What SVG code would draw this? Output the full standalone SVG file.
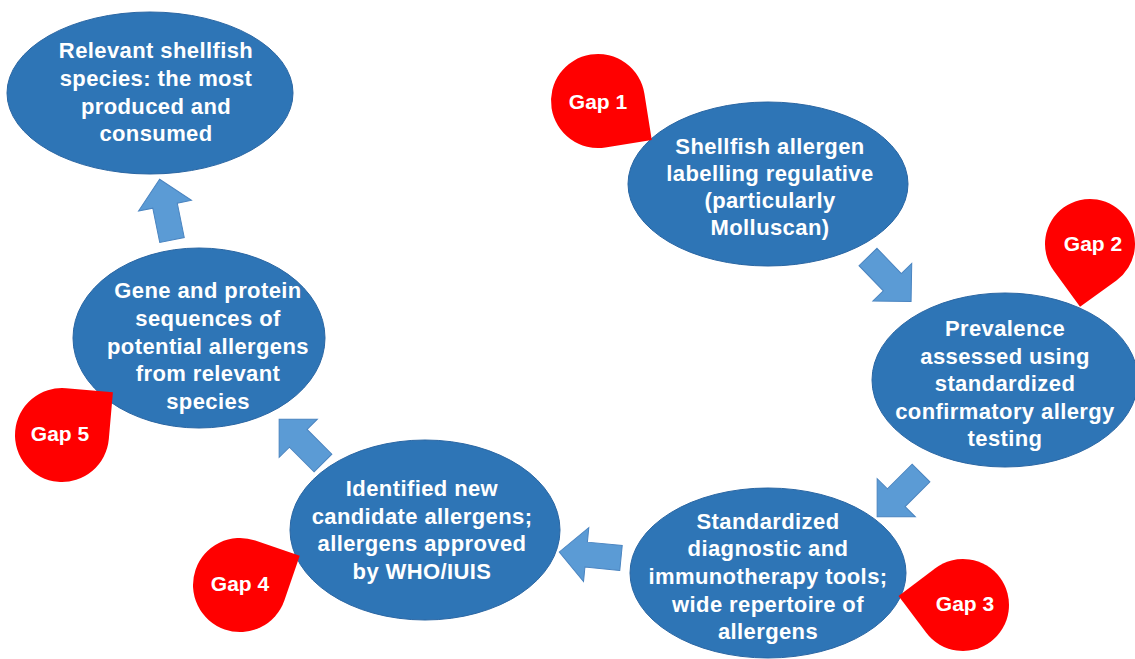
<svg xmlns="http://www.w3.org/2000/svg" width="1135" height="659" viewBox="0 0 1135 659">
<defs>
<style>
.node ellipse{fill:#2e75b6;stroke:#2a66a3;stroke-width:1}
.node text{fill:#fff;font-family:"Liberation Sans",Arial,sans-serif;font-weight:bold;font-size:22px;letter-spacing:0.4px;text-anchor:middle}
.gap path{fill:#ff0000}
.gap text{fill:#fff;font-family:"Liberation Sans",Arial,sans-serif;font-weight:bold;font-size:21px;text-anchor:middle}
.arr{fill:#5b9bd5;stroke:#4a84c0;stroke-width:1}
</style>
<path id="arrowShape" d="M0,-12.5 H35 V-27 L62,0 L35,27 V12.5 H0 Z"/>
</defs>
<rect width="1135" height="659" fill="#fff"/>
<g id="connectors">
<use href="#arrowShape" class="arr" transform="translate(868,257) rotate(46)"/>
<use href="#arrowShape" class="arr" transform="translate(921,473) rotate(135)"/>
<use href="#arrowShape" class="arr" transform="translate(621,558) rotate(185.6)"/>
<use href="#arrowShape" class="arr" transform="translate(323,463) rotate(225)"/>
<use href="#arrowShape" class="arr" transform="translate(172,240) rotate(258.5)"/>
</g>
<g id="n1" class="node">
<ellipse cx="150" cy="93" rx="143" ry="81"/>
<text x="156" y="58">Relevant shellfish</text>
<text x="156" y="86">species: the most</text>
<text x="156" y="114">produced and</text>
<text x="156" y="141">consumed</text>
</g>
<g id="n2" class="node">
<ellipse cx="199" cy="338" rx="126" ry="90"/>
<text x="208" y="298">Gene and protein</text>
<text x="208" y="326">sequences of</text>
<text x="208" y="354">potential allergens</text>
<text x="208" y="381">from relevant</text>
<text x="208" y="409">species</text>
</g>
<g id="n3" class="node">
<ellipse cx="425" cy="530" rx="135" ry="90"/>
<text x="422" y="496">Identified new</text>
<text x="422" y="524">candidate allergens;</text>
<text x="422" y="551">allergens approved</text>
<text x="422" y="579">by WHO/IUIS</text>
</g>
<g id="n4" class="node">
<ellipse cx="768" cy="573" rx="138" ry="85"/>
<text x="768" y="529">Standardized</text>
<text x="768" y="556">diagnostic and</text>
<text x="768" y="584">immunotherapy tools;</text>
<text x="768" y="612">wide repertoire of</text>
<text x="768" y="639">allergens</text>
</g>
<g id="n5" class="node">
<ellipse cx="1005" cy="380" rx="133" ry="87"/>
<text x="1005" y="336">Prevalence</text>
<text x="1005" y="364">assessed using</text>
<text x="1005" y="391">standardized</text>
<text x="1005" y="419">confirmatory allergy</text>
<text x="1005" y="446">testing</text>
</g>
<g id="n6" class="node">
<ellipse cx="768" cy="184" rx="140" ry="82"/>
<text x="770" y="154">Shellfish allergen</text>
<text x="770" y="181">labelling regulative</text>
<text x="770" y="208">(particularly</text>
<text x="770" y="235">Molluscan)</text>
</g>
<g id="gap1" class="gap">
<path transform="translate(598,101) rotate(81)" d="M0,-47 L47,-47 L47,0 A47 47 0 1 1 0,-47 Z"/>
<text x="598" y="109">Gap 1</text>
</g>
<g id="gap2" class="gap">
<path transform="translate(1090,244) rotate(144)" d="M0,-45 L45,-45 L45,0 A45 45 0 1 1 0,-45 Z"/>
<text x="1093" y="251">Gap 2</text>
</g>
<g id="gap3" class="gap">
<path transform="translate(963,605) rotate(233)" d="M0,-46 L46,-46 L46,0 A46 46 0 1 1 0,-46 Z"/>
<text x="965" y="611">Gap 3</text>
</g>
<g id="gap4" class="gap">
<path transform="translate(240,585) rotate(19)" d="M0,-47 L47,-47 L47,0 A47 47 0 1 1 0,-47 Z"/>
<text x="240" y="591">Gap 4</text>
</g>
<g id="gap5" class="gap">
<path transform="translate(62,435) rotate(5)" d="M0,-47 L47,-47 L47,0 A47 47 0 1 1 0,-47 Z"/>
<text x="60" y="441">Gap 5</text>
</g>
</svg>
